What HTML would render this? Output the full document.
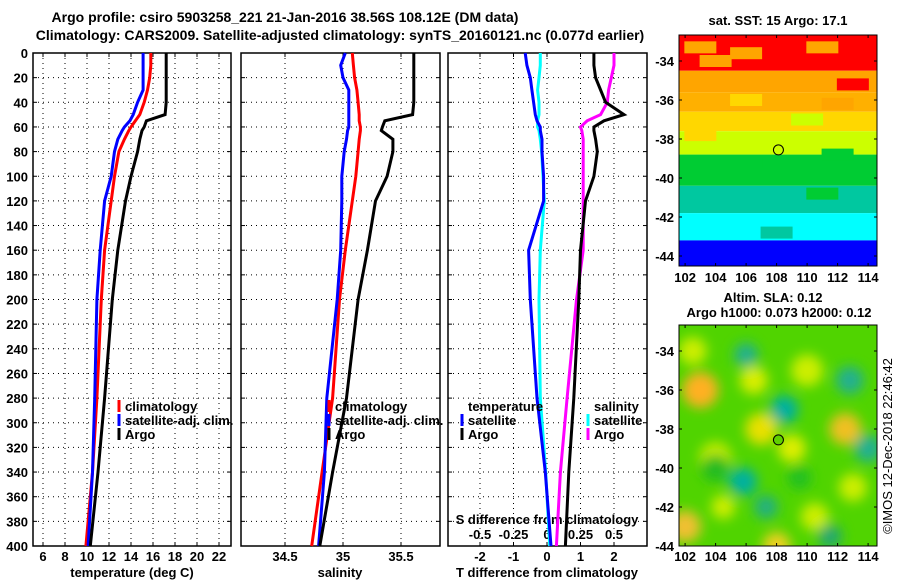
<!DOCTYPE html>
<html><head><meta charset="utf-8">
<style>
body{margin:0;background:#fff;}
svg{display:block;font-family:"Liberation Sans",sans-serif;font-weight:bold;}
</style></head>
<body>
<svg id="c" width="900" height="580" viewBox="0 0 900 580">
<defs>
<filter id="blur" x="-50%" y="-50%" width="200%" height="200%"><feGaussianBlur stdDeviation="6"/></filter>
<clipPath id="m2clip"><rect x="679" y="325" width="198" height="221"/></clipPath>
<clipPath id="m1clip"><rect x="679" y="35" width="198" height="231"/></clipPath>
</defs>
<text x="285" y="22" font-size="14" text-anchor="middle">Argo profile: csiro 5903258_221 21-Jan-2016 38.56S 108.12E (DM data)</text>
<text x="340" y="40" font-size="14" text-anchor="middle">Climatology: CARS2009. Satellite-adjusted climatology: synTS_20160121.nc (0.077d earlier)</text>
<g id="g"></g>
</svg>
<script>
// depth levels (m)
const depths = [0,10,20,30,40,50,55,60,63,70,80,100,120,160,200,280,340,400];
// temperature (deg C)
const tClim = [15.8,15.8,15.7,15.5,15.2,14.8,14.4,14.0,13.8,13.4,12.9,12.5,12.2,11.6,11.3,10.9,10.5,9.9];
const tSat  = [15.1,15.1,15.1,15.1,14.6,14.2,13.9,13.4,13.2,12.8,12.5,12.2,11.6,11.2,10.9,10.7,10.5,10.1];
const tArgo = [17.2,17.2,17.2,17.2,17.2,17.1,15.4,15.2,15.0,14.8,14.6,14.0,13.5,12.8,12.3,11.6,11.0,10.3];
// salinity
const sClim = [35.08,35.09,35.10,35.12,35.13,35.14,35.14,35.15,35.15,35.14,35.13,35.11,35.08,35.02,34.97,34.91,34.82,34.73];
const sSat  = [35.02,34.98,35.00,35.05,35.05,35.05,35.05,35.05,35.04,35.03,35.01,34.99,34.99,34.98,34.95,34.86,34.84,34.79];
const sArgo = [35.61,35.61,35.61,35.61,35.61,35.60,35.36,35.34,35.33,35.43,35.43,35.38,35.28,35.21,35.13,35.03,34.91,34.80];
// differences from climatology
const dTArgo = [1.4,1.4,1.45,1.6,1.75,2.3,1.7,1.4,1.4,1.45,1.5,1.4,1.15,1.0,0.95,0.8,0.65,0.55];
const dTSat  = [-0.65,-0.6,-0.5,-0.45,-0.4,-0.35,-0.3,-0.2,-0.2,-0.15,-0.15,-0.1,-0.1,-0.55,-0.5,-0.3,-0.05,0.12];
const dSArgo = [0.5,0.5,0.48,0.46,0.45,0.4,0.3,0.25,0.26,0.27,0.27,0.27,0.27,0.27,0.22,0.15,0.1,0.07];
const dSSat  = [-0.05,-0.05,-0.06,-0.07,-0.06,-0.06,-0.07,-0.07,-0.06,-0.05,-0.04,-0.03,-0.02,-0.05,-0.06,-0.05,-0.01,0.02];
// tick labels
const depthTicks = [0,20,40,60,80,100,120,140,160,180,200,220,240,260,280,300,320,340,360,380,400];
const tTicks = [6,8,10,12,14,16,18,20,22];
const sTicks = [34.5,35,35.5];
const dTTicks = [-2,-1,0,1,2];
const dSTicks = [-0.5,-0.25,0,0.25,0.5];
const dSLabels = ["-0.5","-0.25","0","0.25","0.5"];
const lonTicks = [102,104,106,108,110,112,114];
const latTicks = [-34,-36,-38,-40,-42,-44];
// SST map bands: [latTop, latBottom, colour]
const sstBandTop = [-32.6,-34.5,-35.6,-36.6,-37.6,-38.8,-40.4,-41.8,-43.2];
const sstBandBot = [-34.5,-35.6,-36.6,-37.6,-38.8,-40.4,-41.8,-43.2,-44.6];
const sstBandCol = ["#ff0000","#ffa500","#ffb000","#ffd700","#ccff00","#00cc33","#00c8a0","#00ffff","#0000ff"];
// SST map patches: lon, lat, colour
const sstPatchLon = [103,106,111,113,104,112,106,110,103,109,112,106,111,104,108];
const sstPatchLat = [-33.3,-33.6,-33.3,-35.2,-34.0,-36.2,-36.0,-37.0,-37.8,-38.2,-38.8,-39.2,-40.8,-42.2,-42.8];
const sstPatchCol = ["#ffa500","#ffa500","#ffa500","#ff0000","#ffa500","#ffa500","#ffd700","#ccff00","#ffd700","#ccff00","#00cc33","#00cc33","#00cc33","#00ffff","#00c8a0"];
// SLA map blobs
const slaLon = [103,107,112.5,102,108,110,104,109,102.5,113,106.5,110.5,104.5,108.5,105.8,111.5,107.3,106,112.8,104,114,109.5];
const slaLat = [-36,-38,-38,-43,-44,-35,-39.5,-39,-34,-41,-35.5,-42.5,-42,-37,-40.7,-43.5,-42,-34.2,-35.5,-40,-39,-40.5];
const slaCol = ["#ffb020","#e8e000","#f0c020","#f0c030","#f0d020","#ccee00","#ccee00","#ddee00","#ccee00","#ccee00","#d8ee00","#ccee00","#ccee00","#00b0a0","#00b0a0","#20a870","#20b080","#20b090","#20b090","#22bb22","#20b090","#22c022"];
const slaR = [18,16,16,16,14,16,16,14,14,14,14,14,12,14,14,12,12,12,14,14,14,12];

const NS="http://www.w3.org/2000/svg";
const g=document.getElementById('g');
function el(tag,attrs,parent){const e=document.createElementNS(NS,tag);for(const k in attrs)e.setAttribute(k,attrs[k]);(parent||g).appendChild(e);return e;}
function txt(x,y,s,attrs){const e=el('text',Object.assign({x:x,y:y,'font-size':13},attrs||{}));e.textContent=s;return e;}

const yTop=53,yBot=546;
const yD=d=>yTop+(d/400)*(yBot-yTop);
const xT=t=>43+(t-6)*11;
const xS=s=>343+(s-35)*116;
const xDT=t=>547+t*33.5;
const xDS=s=>547+s*134;

function panel(x0,x1,name,xTicks,xf,labels,ly){
  const pg=el('g',{});
  
  
  depthTicks.forEach(d=>{ if(d>0&&d<400) el('line',{x1:x0,x2:x1,y1:yD(d),y2:yD(d),stroke:'#000','stroke-dasharray':'1,4','stroke-width':1},pg);
    el('line',{x1:x0,x2:x0+4,y1:yD(d),y2:yD(d),stroke:'#000'},pg); el('line',{x1:x1-4,x2:x1,y1:yD(d),y2:yD(d),stroke:'#000'},pg);});
  xTicks.forEach((t,i)=>{const x=xf(t);
    el('line',{x1:x,x2:x,y1:yTop,y2:yBot,stroke:'#000','stroke-dasharray':'1,4'},pg);
    el('line',{x1:x,x2:x,y1:yBot-4,y2:yBot,stroke:'#000'},pg);
    el('line',{x1:x,x2:x,y1:yTop,y2:yTop+4,stroke:'#000'},pg);
    const l=txt(x,ly,labels?labels[i]:String(t),{'text-anchor':'middle'});
    
    
  });
  el('rect',{x:x0,y:yTop,width:x1-x0,height:yBot-yTop,fill:'none',stroke:'#000','stroke-width':1.5},pg);
  return pg;
}
function line(vals,xf,col,name){
  const pts=vals.map((v,i)=>xf(v).toFixed(1)+','+yD(depths[i]).toFixed(1)).join(' ');
  const p=el('polyline',{points:pts,fill:'none',stroke:col,'stroke-width':3});
  
  
}
panel(33,231,'temperature-panel',tTicks,xT,null,561);
panel(241,440,'salinity-panel',sTicks,xS,null,561);
panel(448,647,'difference-panel',dTTicks,xDT,null,561);
depthTicks.forEach(d=>{const t=txt(28,yD(d)+5,String(d),{'text-anchor':'end'});
  
  });
dSTicks.forEach((s,i)=>{const t=txt(xDS(s),539,dSLabels[i],{'text-anchor':'middle'});
  
  });
let at=txt(547,524,'S difference from climatology',{'text-anchor':'middle'});


line(tClim,xT,'#ff0000','temp-climatology-line');
line(tSat,xT,'#0000ff','temp-satellite-line');
line(tArgo,xT,'#000000','temp-argo-line');
line(sClim,xS,'#ff0000','sal-climatology-line');
line(sSat,xS,'#0000ff','sal-satellite-line');
line(sArgo,xS,'#000000','sal-argo-line');
line(dSSat,xDS,'#00ffff','sdiff-satellite-line');
line(dSArgo,xDS,'#ff00ff','sdiff-argo-line');
line(dTSat,xDT,'#0000ff','tdiff-satellite-line');
line(dTArgo,xDT,'#000000','tdiff-argo-line');

at=txt(132,577,'temperature (deg C)',{'text-anchor':'middle'});
at=txt(340,577,'salinity',{'text-anchor':'middle'});
at=txt(547,577,'T difference from climatology',{'text-anchor':'middle'});

function legend(x,y,col,label){
  const lg=el('g',{});
  
  
  el('line',{x1:x,x2:x,y1:y-11,y2:y+1,stroke:col,'stroke-width':3},lg);
  const t=el('text',{x:x+6,y:y,'font-size':13},lg);t.textContent=label;
}
legend(119,411,'#ff0000','climatology');legend(119,425,'#0000ff','satellite-adj. clim.');legend(119,439,'#000','Argo');
legend(329,411,'#ff0000','climatology');legend(329,425,'#0000ff','satellite-adj. clim.');legend(329,439,'#000','Argo');
at=txt(468,411,'temperature');
legend(462,425,'#0000ff','satellite');legend(462,439,'#000','Argo');
at=txt(594,411,'salinity');
legend(588,425,'#00ffff','satellite');legend(588,439,'#ff00ff','Argo');

const mx=lon=>679+(lon-101.6)*15.25;
const my1=lat=>61+(-34-lat)*19.5;
const my2=lat=>351+(-34-lat)*19.5;
const m1=el('g',{'clip-path':'url(#m1clip)'});


sstBandTop.forEach((t,i)=>{const r=el('rect',{x:679,y:my1(t),width:198,height:my1(sstBandBot[i])-my1(t),fill:sstBandCol[i]},m1);
  });
sstPatchLon.forEach((lo,i)=>{const r=el('rect',{x:mx(lo)-16,y:my1(sstPatchLat[i])-6,width:32,height:12,fill:sstPatchCol[i]},m1);
  });
el('rect',{x:679,y:35,width:198,height:231,fill:'none',stroke:'#000'});
const m2=el('g',{'clip-path':'url(#m2clip)'});


el('rect',{x:679,y:325,width:198,height:221,fill:'#50d400'},m2);
const bg=el('g',{filter:'url(#blur)'},m2);
slaLon.forEach((lo,i)=>{const c=el('circle',{cx:mx(lo),cy:my2(slaLat[i]),r:slaR[i],fill:slaCol[i]},bg);
  });
el('rect',{x:679,y:325,width:198,height:221,fill:'none',stroke:'#000'});
let mk=el('circle',{cx:mx(108.12),cy:my1(-38.56),r:5,fill:'#ccff00',stroke:'#000'});

mk=el('circle',{cx:mx(108.12),cy:my2(-38.56),r:5,fill:'#60d000',stroke:'#000'});

[[35,266,my1,282],[325,546,my2,561]].forEach(m=>{
  lonTicks.forEach(lo=>{const x=mx(lo);el('line',{x1:x,x2:x,y1:m[1]-3,y2:m[1],stroke:'#000'});el('line',{x1:x,x2:x,y1:m[0],y2:m[0]+3,stroke:'#000'});
    const t=txt(x,m[3],String(lo),{'text-anchor':'middle'});});
  latTicks.forEach(la=>{const y=m[2](la);el('line',{x1:679,x2:682,y1:y,y2:y,stroke:'#000'});el('line',{x1:874,x2:877,y1:y,y2:y,stroke:'#000'});
    const t=txt(674,y+5,String(la),{'text-anchor':'end'});});
});
at=txt(778,25,'sat. SST: 15 Argo: 17.1',{'text-anchor':'middle'});
at=txt(773,302,'Altim. SLA: 0.12',{'text-anchor':'middle'});
at=txt(779,317,'Argo h1000: 0.073 h2000: 0.12',{'text-anchor':'middle'});
at=txt(0,0,'©IMOS 12-Dec-2018 22:46:42',{'text-anchor':'middle','font-weight':'normal',transform:'translate(892,446) rotate(-90)'});

</script>
</body></html>
